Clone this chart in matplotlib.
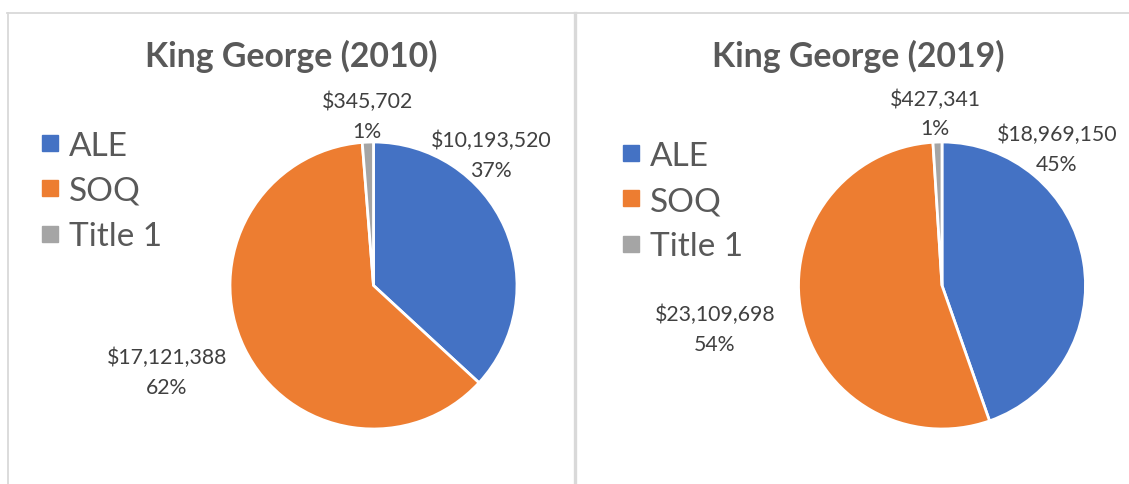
import matplotlib
matplotlib.use("Agg")
import matplotlib.pyplot as plt
from matplotlib.lines import Line2D

plt.rcParams['font.family'] = ['Lato', 'DejaVu Sans']

# ---- data ----
categories = ["ALE", "SOQ", "Title 1"]
titles = ["King George (2010)", "King George (2019)"]
values_2010 = [10193520, 17121388, 345702]
values_2019 = [18969150, 23109698, 427341]
series = [values_2010, values_2019]

# ---- styles / layout ----
colors = ["#4472C4", "#ED7D31", "#A5A5A5"]
W, H = 1129, 485
fig = plt.figure(figsize=(W / 100, H / 100), dpi=100)
fig.patch.set_facecolor("white")

R = 143.5  # pie radius in px
pie_centers = [(373.5, 286.5), (942.0, 286.5)]
title_pos = [(291, 66.7), (858, 66.7)]
legend_pos = [(41, 192), (622, 202)]
# label positions relative to pie centre, in units of radius
label_offsets = [
    [(0.819, 0.91), (-1.439, -0.60), (-0.045, 1.18)],
    [(0.801, 0.95), (-1.582, -0.30), (-0.049, 1.20)],
]

for k in range(2):
    cx, cy = pie_centers[k]
    ax = fig.add_axes([(cx - R) / W, (H - cy - R) / H, 2 * R / W, 2 * R / H])
    vals = series[k]
    wedges, _ = ax.pie(vals, colors=colors, startangle=90, counterclock=False,
                       radius=1.0,
                       wedgeprops=dict(edgecolor="white", linewidth=2.0))
    ax.set_xlim(-1, 1)
    ax.set_ylim(-1, 1)
    ax.set_aspect("equal")
    ax.axis("off")
    total = sum(vals)
    for i, v in enumerate(vals):
        dx, dy = label_offsets[k][i]
        ax.text(dx, dy, f"${v:,.0f}\n{v / total * 100:.0f}%",
                ha="center", va="center", fontsize=15.3, color="#404040",
                linespacing=1.6, clip_on=False)

    tx, ty = title_pos[k]
    fig.text(tx / W, 1 - ty / H, titles[k], ha="center", va="baseline",
             fontsize=24.3, fontweight="bold", color="#595959")

    handles = [Line2D([], [], linestyle="none", marker="s", markersize=12,
                      markerfacecolor=c, markeredgecolor=c) for c in colors]
    lx, ly = legend_pos[k]
    fig.legend(handles, categories, loc="center left",
               bbox_to_anchor=(lx / W, 1 - ly / H), frameon=False,
               fontsize=24, labelcolor="#595959", handlelength=0.55,
               handletextpad=0.3, labelspacing=0.46, borderpad=0,
               borderaxespad=0)

# ---- chart borders ----
bc = "#D9D9D9"
fig.add_artist(Line2D([7 / W, 1], [1 - 13.5 / H, 1 - 13.5 / H],
                      transform=fig.transFigure, color=bc, linewidth=1.3))
fig.add_artist(Line2D([7.5 / W, 7.5 / W], [0, 1 - 13.5 / H],
                      transform=fig.transFigure, color=bc, linewidth=1.3))
fig.add_artist(Line2D([574.5 / W, 574.5 / W], [0, 1 - 13.5 / H],
                      transform=fig.transFigure, color=bc, linewidth=2.4))

fig.savefig("out.png", dpi=100, facecolor="white")
